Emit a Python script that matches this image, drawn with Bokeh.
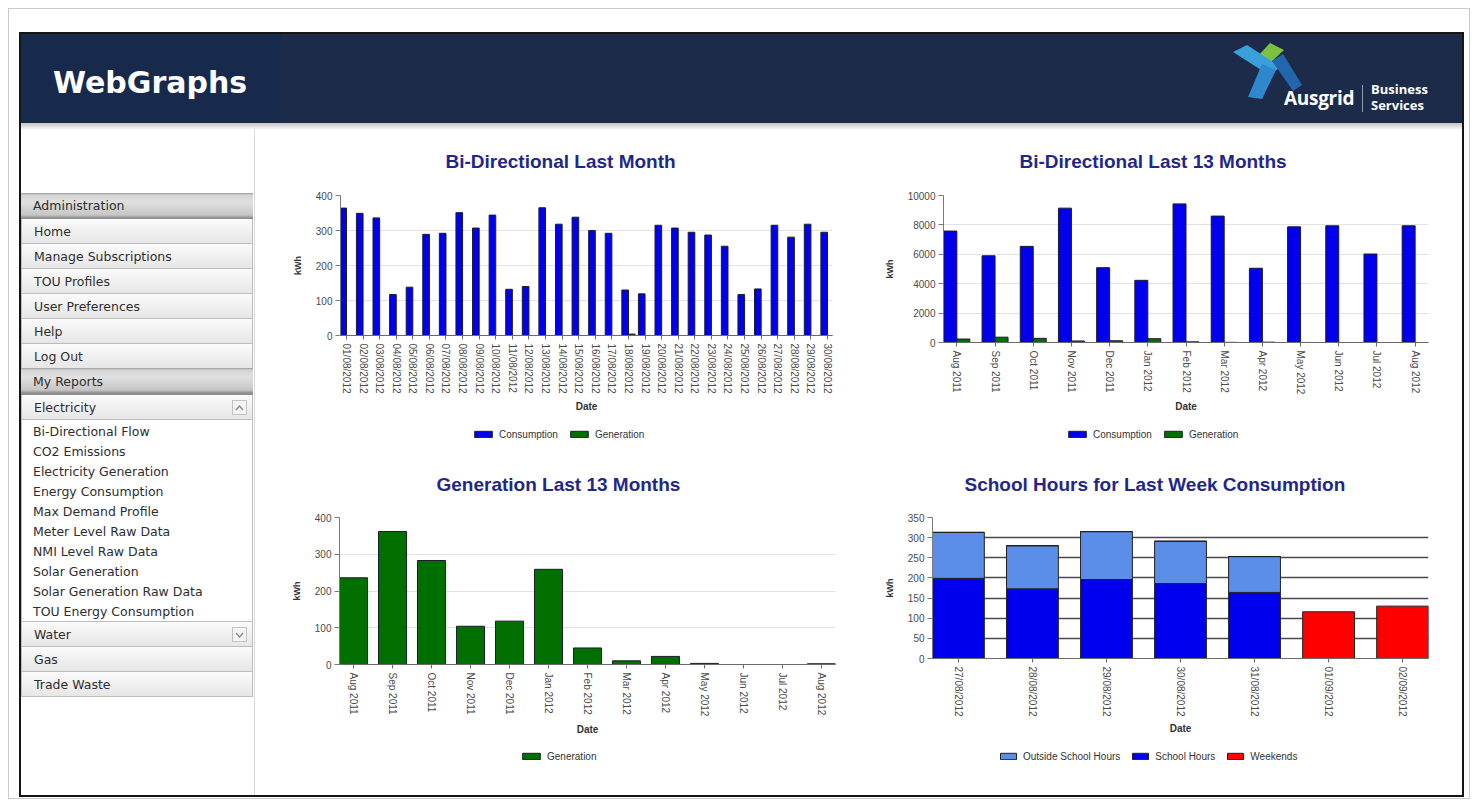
import math
from bokeh.plotting import figure
from bokeh.models import (Range1d, FixedTicker, SingleIntervalTicker, Legend, LegendItem,
                          Div, ColumnDataSource)
from bokeh.layouts import column, row
from bokeh.transform import dodge
from bokeh.embed import file_html
from bokeh.resources import INLINE

# ---------------- data ----------------
days_aug = ["01/08/2012", "02/08/2012", "03/08/2012", "04/08/2012", "05/08/2012", "06/08/2012",
            "07/08/2012", "08/08/2012", "09/08/2012", "10/08/2012", "11/08/2012", "12/08/2012",
            "13/08/2012", "14/08/2012", "15/08/2012", "16/08/2012", "17/08/2012", "18/08/2012",
            "19/08/2012", "20/08/2012", "21/08/2012", "22/08/2012", "23/08/2012", "24/08/2012",
            "25/08/2012", "26/08/2012", "27/08/2012", "28/08/2012", "29/08/2012", "30/08/2012"]
daily_consumption = [364, 349, 336, 117, 138, 289, 292, 351, 307, 344, 132, 140, 365, 318, 338,
                     300, 292, 130, 119, 315, 307, 295, 287, 255, 117, 133, 315, 281, 318, 295]
daily_generation = [0, 0, 0, 0, 0, 0, 0, 0, 0, 0, 0, 0, 0, 0, 0,
                    0, 0, 4, 0, 0, 0, 0, 0, 0, 0, 0, 0, 0, 0, 0]

months = ["Aug 2011", "Sep 2011", "Oct 2011", "Nov 2011", "Dec 2011", "Jan 2012", "Feb 2012",
          "Mar 2012", "Apr 2012", "May 2012", "Jun 2012", "Jul 2012", "Aug 2012"]
monthly_consumption = [7580, 5900, 6540, 9140, 5090, 4230, 9430, 8600, 5050, 7870, 7940, 6020, 7940]
monthly_generation = [236, 362, 283, 104, 118, 259, 45, 10, 22, 3, 0, 0, 2]

week_days = ["27/08/2012", "28/08/2012", "29/08/2012", "30/08/2012", "31/08/2012",
             "01/09/2012", "02/09/2012"]
school_hours = [199, 173, 196, 186, 164, 0, 0]
outside_school_hours = [114, 107, 119, 105, 89, 0, 0]
weekends = [0, 0, 0, 0, 0, 116, 130]

admin_menu = ["Home", "Manage Subscriptions", "TOU Profiles", "User Preferences", "Help", "Log Out"]
electricity_reports = ["Bi-Directional Flow", "CO2 Emissions", "Electricity Generation",
                       "Energy Consumption", "Max Demand Profile", "Meter Level Raw Data",
                       "NMI Level Raw Data", "Solar Generation", "Solar Generation Raw Data",
                       "TOU Energy Consumption"]
other_menu = ["Gas", "Trade Waste"]

# ---------------- styles ----------------
FONT = "Liberation Sans"
BLUE = "#0000ee"
GREEN = "#006f00"
LIGHT_BLUE = "#5b8ee8"
RED = "#ff0000"
EDGE = "#1c1c2c"
TITLE_COLOR = "#1f2888"


def make_fig(width, height, borders, labels, pad, y_end, y_step, title, title_offset,
             title_standoff, date_standoff, grid_color="#e2e2e2", grid_width=1):
    l, r, t, b = borders
    n = len(labels)
    p = figure(width=width, height=height, output_backend="svg", toolbar_location=None,
               x_range=Range1d(-pad[0], n - 1 + pad[1]), y_range=Range1d(0, y_end),
               min_border_left=l, min_border_right=r, min_border_top=t, min_border_bottom=b,
               title=title)
    p.background_fill_alpha = 0
    p.border_fill_alpha = 0
    p.outline_line_color = None
    p.title.align = "left"
    p.title.offset = title_offset
    p.title.standoff = title_standoff
    p.title.text_font = FONT
    p.title.text_font_size = "19px"
    p.title.text_font_style = "bold"
    p.title.text_color = TITLE_COLOR

    xa = p.xaxis[0]
    xa.ticker = FixedTicker(ticks=list(range(n)))
    xa.major_label_overrides = {i: s for i, s in enumerate(labels)}
    xa.major_label_orientation = "vertical"
    xa.axis_label = "Date"
    xa.axis_label_text_font = FONT
    xa.axis_label_text_font_style = "bold"
    xa.axis_label_text_font_size = "10px"
    xa.axis_label_text_color = "#333333"
    xa.axis_label_standoff = date_standoff
    xa.major_label_text_font = FONT
    xa.major_label_text_font_size = "10px"
    xa.major_label_text_color = "#4a4a4a"
    xa.major_label_standoff = 4
    xa.axis_line_color = "#6a6a6a"
    xa.major_tick_line_color = "#6a6a6a"
    xa.major_tick_out = 4
    xa.major_tick_in = 0
    xa.minor_tick_line_color = None

    ya = p.yaxis[0]
    ya.ticker = SingleIntervalTicker(interval=y_step)
    ya.axis_label = "kWh"
    ya.axis_label_text_font = FONT
    ya.axis_label_text_font_style = "bold"
    ya.axis_label_text_font_size = "9px"
    ya.axis_label_text_color = "#333333"
    ya.axis_label_standoff = 10
    ya.major_label_text_font = FONT
    ya.major_label_text_font_size = "10px"
    ya.major_label_text_color = "#4a4a4a"
    ya.major_label_standoff = 3
    ya.axis_line_color = "#7a7a7a"
    ya.major_tick_line_color = "#7a7a7a"
    ya.major_tick_out = 5
    ya.major_tick_in = 0
    ya.minor_tick_line_color = None

    p.xgrid.grid_line_color = None
    p.ygrid.grid_line_color = grid_color
    p.ygrid.grid_line_width = grid_width
    return p


def legend_fig(width, height, series, x_off, y_off, glyph_w=22, line_color=EDGE):
    """A strip under a chart that carries the chart's legend (keys share the chart's styling)."""
    lf = figure(width=width, height=height, output_backend="svg", toolbar_location=None,
                x_axis_type=None, y_axis_type=None, x_range=Range1d(0, 1), y_range=Range1d(1, 2),
                min_border_left=0, min_border_right=0, min_border_top=0, min_border_bottom=0)
    lf.background_fill_alpha = 0
    lf.border_fill_alpha = 0
    lf.outline_line_color = None
    lf.xgrid.visible = False
    lf.ygrid.visible = False
    items = []
    for label, color in series:
        # key swatch source: a zero-height bar that lies outside the strip's visible range
        r = lf.vbar(x=[0], top=[0], width=0.5, fill_color=color, line_color=line_color, line_width=1)
        items.append(LegendItem(label=label, renderers=[r]))
    lg = Legend(items=items, location=(x_off, y_off), orientation="horizontal",
                glyph_width=glyph_w, glyph_height=8, label_height=12,
                label_text_font=FONT, label_text_font_size="10px", label_text_color="#333333",
                label_standoff=5, spacing=10, padding=0, margin=0,
                border_line_color=None, background_fill_alpha=0)
    lf.add_layout(lg)
    return lf


# ---- Top-left: Bi-Directional Last Month ----
p1 = make_fig(604, 301, (84, 28, 76, 85), days_aug, (0.36, 0.30), 400, 100,
              "Bi-Directional Last Month", 105, 48, 4)
s1 = ColumnDataSource(dict(x=list(range(len(days_aug))), cons=daily_consumption, gen=daily_generation))
p1.vbar(x=dodge("x", -0.2), top="cons", width=0.4, source=s1,
        fill_color=BLUE, line_color=EDGE, line_width=1)
p1.vbar(x=dodge("x", 0.2), top="gen", width=0.4, source=s1,
        fill_color=GREEN, line_color=EDGE, line_width=1)
l1 = legend_fig(604, 29, [("Consumption", BLUE), ("Generation", GREEN)], 132, 9)

# ---- Top-right: Bi-Directional Last 13 Months ----
p2 = make_fig(602, 301, (83, 34, 76, 78), months, (0.35, 0.35), 10000, 2000,
              "Bi-Directional Last 13 Months", 76, 48, 4)
s2 = ColumnDataSource(dict(x=list(range(len(months))), cons=monthly_consumption, gen=monthly_generation))
p2.vbar(x=dodge("x", -0.17), top="cons", width=0.34, source=s2,
        fill_color=BLUE, line_color=EDGE, line_width=1)
p2.vbar(x=dodge("x", 0.17), top="gen", width=0.34, source=s2,
        fill_color=GREEN, line_color=EDGE, line_width=1)
l2 = legend_fig(602, 29, [("Consumption", BLUE), ("Generation", GREEN)], 123, 9)

# ---- Bottom-left: Generation Last 13 Months ----
p3 = make_fig(604, 296, (83, 25, 67, 81), months, (0.36, 0.36), 400, 100,
              "Generation Last 13 Months", 97, 45, 5)
s3 = ColumnDataSource(dict(x=list(range(len(months))), gen=monthly_generation))
p3.vbar(x="x", top="gen", width=0.72, source=s3,
        fill_color=GREEN, line_color=EDGE, line_width=1)
l3 = legend_fig(604, 35, [("Generation", GREEN)], 181, 18)

# ---- Bottom-right: School Hours for Last Week Consumption ----
p4 = make_fig(602, 291, (72, 34, 67, 82), week_days, (0.35, 0.35), 350, 50,
              "School Hours for Last Week Consumption", 32, 45, 3,
              grid_color="#4a4a4a", grid_width=1.5)
s4 = ColumnDataSource(dict(x=list(range(len(week_days))), school=school_hours,
                           outside=outside_school_hours, weekend=weekends))
p4.vbar_stack(["school", "outside", "weekend"], x="x", width=0.7, source=s4,
              fill_color=[BLUE, LIGHT_BLUE, RED], line_color="#222222", line_width=1)
l4 = legend_fig(602, 35, [("Outside School Hours", LIGHT_BLUE), ("School Hours", BLUE),
                          ("Weekends", RED)], 66, 13, glyph_w=20, line_color="#222222")

# ---------------- page chrome (header + sidebar) ----------------

def ab(x, y, w, h, style, inner=""):
    return (f'<div style="position:absolute;left:{x - 8}px;top:{y - 8}px;width:{w}px;'
            f'height:{h}px;box-sizing:border-box;{style}">{inner}</div>')


MENU_FONT = "font-family:'DejaVu Sans';font-size:12.5px;color:#2e2e2e;"
HEAD_BG = ("background:linear-gradient(to bottom,#9a9a9a 0px,#d4d4d4 2px,#e0e0e0 9px,#c6c6c6 22px,#8e8e8e 25px);")
ITEM_BG = ("background:linear-gradient(to bottom,#fbfbfb,#e6e6e6);border:1px solid #bdbdbd;border-top:none;")


def menu_row(y, h, label, head=False, icon=None):
    style = (HEAD_BG if head else ITEM_BG) + MENU_FONT + f"line-height:{h}px;padding-left:12px;"
    html = ab(21, y, 232, h, style, label)
    if icon:
        pts = "4,10 7.5,6 11,10" if icon == "up" else "4,6 7.5,10 11,6"
        svg = (f'<svg width="15" height="15" style="display:block"><rect x="0.5" y="0.5" width="14" height="14" '
               f'fill="#f4f4f4" stroke="#c2c2c2"/><polyline points="{pts}" fill="none" stroke="#8a8a8a" '
               f'stroke-width="1.4"/></svg>')
        html += ab(232, y + 5, 15, 15, "", svg)
    return html


parts = []
parts.append(ab(8, 8, 1462, 791, "border:1px solid #cbcbcb;background:#ffffff;"))
parts.append(ab(19, 32, 1445, 765, "border:2px solid #151515;"))
parts.append(ab(21, 34, 1441, 89, "background:#1d2b4a;"))
parts.append(ab(21, 34, 260, 89, "background:#182a4c;"))
parts.append(ab(53, 63, 240, 40, "color:#ffffff;font-family:'DejaVu Sans';font-weight:bold;"
                "font-size:30px;line-height:40px;white-space:nowrap;", "WebGraphs"))
# Ausgrid logo
logo_svg = (
    '<svg width="240" height="90" viewBox="1225 36 240 90" style="display:block">'
    '<polygon points="1258,56 1270,43 1284,50 1270,63" fill="#7cc242"/>'
    '<polygon points="1233,52 1247,45 1281,67 1269,75" fill="#3aa0dc"/>'
    '<polygon points="1272,61 1283,54 1302,85 1293,91" fill="#2266ad"/>'
    '<polygon points="1262,64 1276,70 1262,99 1248,97" fill="#2f88cd"/>'
    '<line x1="1362.5" y1="85" x2="1362.5" y2="112" stroke="#8d9bb3" stroke-width="1"/>'
    '</svg>')
parts.append(ab(1225, 36, 240, 90, "", logo_svg))
parts.append(ab(1284, 86, 80, 24, "color:#ffffff;font-family:'Open Sans';font-weight:bold;"
                "font-size:19px;line-height:24px;white-space:nowrap;letter-spacing:-0.3px;", "Ausgrid"))
parts.append(ab(1371, 82, 80, 15, "color:#ffffff;font-family:'Open Sans';font-weight:bold;"
                "font-size:13px;line-height:15px;white-space:nowrap;", "Business"))
parts.append(ab(1371, 98, 80, 15, "color:#ffffff;font-family:'Open Sans';font-weight:bold;"
                "font-size:13px;line-height:15px;white-space:nowrap;", "Services"))
# strip under header and sidebar separator
parts.append(ab(21, 123, 1441, 6, "background:linear-gradient(to bottom,#c4c4c4,#f3f3f3);"))
parts.append(ab(254, 129, 1, 666, "background:#dadada;"))

# menu
parts.append(menu_row(193, 26, "Administration", head=True))
y = 219
for item in admin_menu:
    parts.append(menu_row(y, 25, item))
    y += 25
parts.append(menu_row(368, 27, "My Reports", head=True))
parts.append(menu_row(395, 25, "Electricity", icon="up"))
parts.append(ab(21, 420, 232, 202, "background:#ffffff;border-left:1px solid #bdbdbd;"
                "border-right:1px solid #bdbdbd;"))
for i, item in enumerate(electricity_reports):
    parts.append(ab(33, 422 + i * 19.95, 220, 20, MENU_FONT + "line-height:20px;white-space:nowrap;", item))
parts.append(ab(21, 621, 232, 1, "background:#bdbdbd;"))
parts.append(menu_row(622, 25, "Water", icon="down"))
y = 647
for item in other_menu:
    parts.append(menu_row(y, 25, item))
    y += 25

bg_html = ('<div style="position:relative;width:1462px;height:791px;overflow:hidden;">'
           + "".join(parts) + "</div>")
bg = Div(text=bg_html, width=1462, height=791, margin=0)

charts = column(row(column(p1, l1), column(p2, l2)),
                row(column(p3, l3), column(p4, l4)), margin=(-680, 0, 0, 248))
page = column(bg, charts, margin=(8, 0, 0, 8))

open("out.html", "w").write(file_html(page, INLINE, title="WebGraphs"))
